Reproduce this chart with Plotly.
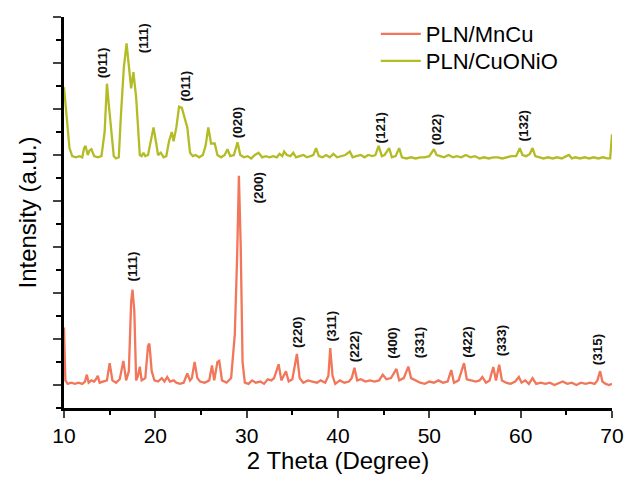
import plotly.graph_objects as go

# ---------------- data ----------------
mncu_2theta = [10.0, 10.15, 10.4, 10.8, 11.2, 11.6, 12.0, 12.3, 12.5, 12.7, 13.0, 13.3, 13.5, 13.7, 13.9,
               14.3, 14.7, 15.0, 15.3, 15.7, 16.1, 16.5, 16.8, 17.1, 17.35, 17.5, 17.7, 17.9, 18.1, 18.3,
               18.5, 18.9, 19.2, 19.35, 19.6, 19.9, 20.3, 20.7, 21.0, 21.3, 21.6, 22.0, 22.3, 22.7, 23.1,
               23.5, 23.8, 24.0, 24.3, 24.6, 24.9, 25.4, 25.9, 26.2, 26.45, 26.8, 27.0, 27.3, 27.8, 28.3,
               28.7, 28.95, 29.15, 29.35, 29.55, 29.8, 30.2, 30.6, 31.0, 31.5, 31.9, 32.3, 32.7, 33.0, 33.5,
               33.8, 34.3, 34.6, 35.0, 35.5, 35.8, 36.2, 36.7, 37.2, 37.7, 38.1, 38.6, 38.95, 39.15, 39.4,
               39.7, 40.2, 40.7, 41.2, 41.5, 41.8, 42.1, 42.5, 43.0, 43.5, 44.0, 44.5, 44.9, 45.3, 45.8,
               46.4, 46.7, 47.2, 47.7, 48.0, 48.5, 49.0, 49.5, 50.0, 50.5, 51.0, 51.5, 52.0, 52.4, 52.7,
               53.2, 53.8, 54.1, 54.6, 55.1, 55.5, 55.8, 56.2, 56.6, 57.0, 57.3, 57.65, 57.95, 58.4, 58.9,
               59.4, 59.8, 60.1, 60.5, 60.9, 61.3, 61.7, 62.2, 62.7, 63.2, 63.7, 64.2, 64.6, 65.1, 65.6,
               66.1, 66.6, 67.1, 67.6, 68.1, 68.4, 68.7, 68.95, 69.3, 69.7, 70.0]
mncu_intensity = [3.5, 1.2, 1.05, 1.1, 1.05, 1.1, 1.05, 1.15, 1.45, 1.1, 1.2, 1.15, 1.25, 1.4, 1.1,
                  1.15, 1.2, 1.95, 1.2, 1.1, 1.25, 2.05, 1.2, 1.6, 4.6, 5.15, 4.2, 1.2, 1.4, 1.8,
                  1.2, 1.3, 2.7, 2.8, 1.6, 1.2, 1.15, 1.3, 1.15, 1.35, 1.15, 1.2, 1.1, 1.05, 1.1,
                  1.5, 1.2, 1.3, 2.0, 1.3, 1.15, 1.1, 1.2, 1.85, 1.2, 2.0, 2.05, 1.2, 1.1, 1.3,
                  3.2, 6.5, 10.1, 7.0, 2.0, 1.1, 1.05, 1.2, 1.1, 1.15, 1.05, 1.25, 1.2, 1.3, 1.9,
                  1.2, 1.6, 1.15, 1.25, 2.35, 1.3, 1.1, 1.2, 1.15, 1.1, 1.2, 1.1, 1.4, 2.6, 1.4,
                  1.05, 1.2, 1.1, 1.15, 1.3, 1.75, 1.2, 1.25, 1.15, 1.2, 1.15, 1.2, 1.45, 1.25, 1.3,
                  1.7, 1.2, 1.3, 1.8, 1.3, 1.2, 1.1, 1.05, 1.15, 1.1, 1.2, 1.1, 1.15, 1.65, 1.1,
                  1.2, 1.95, 1.25, 1.2, 1.15, 1.2, 1.35, 1.1, 1.2, 1.78, 1.2, 1.88, 1.2, 1.1, 1.05,
                  1.15, 1.35, 1.1, 1.2, 1.05, 1.3, 1.05, 1.1, 1.05, 1.1, 1.0, 1.1, 1.15, 1.05, 1.1,
                  1.0, 1.1, 1.05, 1.1, 1.05, 1.2, 1.6, 1.15, 1.05, 1.0, 1.05]

cuonio_2theta = [10.0, 10.3, 10.6, 10.9, 11.3, 11.7, 12.0, 12.2, 12.35, 12.6, 12.8, 13.0, 13.3, 13.7, 14.1,
                 14.45, 14.7, 14.95, 15.2, 15.45, 15.7, 16.0, 16.2, 16.55, 16.85, 17.15, 17.35, 17.6, 17.9, 18.3,
                 18.5, 18.7, 18.9, 19.2, 19.5, 19.8, 20.1, 20.3, 20.6, 20.9, 21.2, 21.5, 21.8, 22.0, 22.3,
                 22.6, 22.9, 23.2, 23.5, 23.8, 24.1, 24.4, 24.8, 25.2, 25.5, 25.8, 26.1, 26.5, 26.8, 27.2,
                 27.6, 27.9, 28.2, 28.6, 29.0, 29.3, 29.7, 30.1, 30.5, 30.9, 31.3, 31.7, 32.1, 32.5, 32.9,
                 33.3, 33.6, 33.9, 34.1, 34.4, 34.8, 35.1, 35.4, 35.8, 36.2, 36.6, 37.0, 37.3, 37.6, 37.9,
                 38.3, 38.7, 39.1, 39.5, 39.9, 40.3, 40.8, 41.3, 41.6, 42.0, 42.5, 42.9, 43.3, 43.8, 44.1,
                 44.45, 44.8, 45.1, 45.6, 45.9, 46.3, 46.7, 47.0, 47.5, 48.0, 48.5, 49.0, 49.5, 50.0, 50.5,
                 50.8, 51.2, 51.6, 52.1, 52.6, 53.0, 53.5, 54.0, 54.5, 55.0, 55.5, 56.0, 56.5, 57.0, 57.5,
                 58.0, 58.5, 59.0, 59.5, 59.9, 60.2, 60.6, 61.0, 61.3, 61.6, 62.0, 62.5, 63.0, 63.5, 64.0,
                 64.5, 65.0, 65.3, 65.6, 66.0, 66.5, 67.0, 67.5, 68.0, 68.5, 69.0, 69.5, 69.8, 70.0]
cuonio_intensity = [13.95, 12.6, 11.3, 10.95, 10.9, 10.95, 10.9, 11.3, 11.4, 11.0, 11.2, 11.25, 10.95, 10.9, 10.95,
                    12.0, 14.1, 13.0, 11.8, 10.95, 10.85, 10.9, 12.5, 14.8, 15.85, 14.5, 13.9, 14.6, 13.5, 11.0,
                    10.95, 11.1, 10.95, 11.0, 11.6, 12.2, 11.5, 11.0, 11.1, 10.9, 10.95, 11.6, 12.0, 11.6, 12.2,
                    13.1, 13.05, 12.6, 12.2, 11.1, 10.95, 11.0, 10.9, 11.0, 11.4, 12.2, 11.5, 11.5, 11.0, 10.9,
                    11.0, 11.25, 10.95, 11.0, 11.55, 11.0, 10.9, 10.95, 10.85, 11.0, 11.1, 10.9, 10.95, 10.9, 10.95,
                    10.9, 11.05, 10.95, 11.15, 11.0, 10.95, 11.1, 10.9, 10.95, 11.0, 10.9, 10.95, 11.0, 11.3, 10.95,
                    10.9, 11.0, 10.9, 11.05, 10.9, 10.95, 11.0, 11.15, 10.9, 10.95, 11.0, 10.9, 11.0, 10.95, 11.0,
                    11.4, 10.95, 11.0, 11.3, 10.9, 10.95, 11.3, 10.9, 10.85, 10.9, 10.85, 10.9, 10.9, 10.95, 11.25,
                    11.0, 10.95, 10.9, 11.0, 10.9, 10.95, 10.9, 11.0, 10.9, 10.95, 10.85, 10.9, 10.85, 10.9, 10.9,
                    10.85, 10.9, 10.95, 10.95, 11.3, 11.0, 10.95, 11.05, 11.3, 10.95, 10.9, 10.85, 10.9, 10.85, 10.9,
                    10.85, 10.95, 11.0, 10.85, 10.9, 10.85, 10.9, 10.85, 10.9, 10.85, 10.9, 10.85, 10.85, 11.9]

mncu_labels = ["(111)", "(200)", "(220)", "(311)", "(222)", "(400)", "(331)", "(422)", "(333)", "(315)"]
mncu_label_x = [17.5, 31.3, 35.5, 39.3, 41.9, 46.0, 49.0, 54.2, 58.0, 68.4]
mncu_label_y = [6.13, 9.57, 3.3, 3.57, 2.7, 2.83, 2.87, 2.87, 2.96, 2.57]

cuonio_labels = ["(011)", "(111)", "(011)", "(020)", "(121)", "(022)", "(132)"]
cuonio_label_x = [14.2, 18.7, 23.2, 29.0, 44.6, 50.8, 60.3]
cuonio_label_y = [15.0, 16.1, 14.0, 12.4, 12.2, 12.1, 12.3]

x_ticks = [10, 20, 30, 40, 50, 60, 70]

RED = "#F2765A"
GREEN = "#B3BC25"
FONT = "Liberation Sans, Arial, sans-serif"

fig = go.Figure()
fig.add_trace(go.Scatter(x=mncu_2theta, y=mncu_intensity, mode="lines", name="PLN/MnCu",
                         line=dict(color=RED, width=2.3), legend="legend"))
fig.add_trace(go.Scatter(x=cuonio_2theta, y=cuonio_intensity, mode="lines", name="PLN/CuONiO",
                         line=dict(color=GREEN, width=2.3), legend="legend2"))

for t, x, y in zip(mncu_labels + cuonio_labels, mncu_label_x + cuonio_label_x, mncu_label_y + cuonio_label_y):
    fig.add_annotation(x=x, y=y, text="<b>" + t + "</b>", textangle=-90, showarrow=False,
                       font=dict(family=FONT, size=13.5, color="#111111"))

leg_common = dict(xref="paper", yref="paper", xanchor="left", yanchor="middle",
                  bgcolor="rgba(0,0,0,0)", itemwidth=40,
                  font=dict(size=22, family=FONT, color="black"))

fig.update_layout(
    width=629, height=483,
    margin=dict(l=64, r=17, t=17, b=75),
    paper_bgcolor="white", plot_bgcolor="white",
    font=dict(family=FONT, color="black"),
    showlegend=True,
    legend=dict(x=0.569, y=(408 - 34) / 391, **leg_common),
    legend2=dict(x=0.569, y=(408 - 61) / 391, **leg_common),
    xaxis=dict(range=[10, 70], tickvals=x_ticks, ticks="outside", ticklen=7, tickwidth=2,
               showline=True, linewidth=2.5, linecolor="black", showgrid=False, zeroline=False,
               automargin=False,
               tickfont=dict(size=21, family=FONT, color="black"),
               minor=dict(dtick=5, tick0=10, ticks="outside", ticklen=4, tickwidth=2, tickcolor="black"),
               title=dict(text="2 Theta (Degree)", font=dict(size=24, family=FONT, color="black"), standoff=3)),
    yaxis=dict(range=[0, 17], tick0=1, dtick=2, ticks="outside", ticklen=8, tickwidth=2,
               showline=True, linewidth=2.5, linecolor="black", showgrid=False, zeroline=False,
               showticklabels=False, automargin=False,
               minor=dict(dtick=1, tick0=0, ticks="outside", ticklen=5, tickwidth=2, tickcolor="black"),
               title=dict(text="Intensity (a.u.)", font=dict(size=24, family=FONT, color="black"), standoff=10)),
)

fig.write_html("out.html")
